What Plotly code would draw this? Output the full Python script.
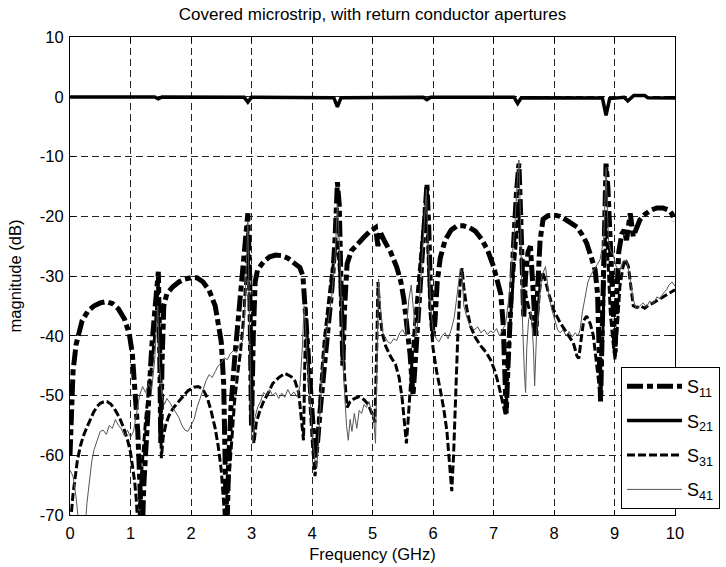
import plotly.graph_objects as go

# ---------------- data ----------------
s11_f = [0.00, 0.02, 0.05, 0.10, 0.15, 0.20, 0.30, 0.40, 0.50, 0.60, 0.70, 0.80, 0.90, 0.98,
         1.03, 1.08, 1.12, 1.16, 1.19, 1.22, 1.26, 1.30, 1.35, 1.40, 1.44, 1.46, 1.48, 1.50,
         1.52, 1.55, 1.60, 1.70, 1.80, 1.90, 2.00, 2.10, 2.20, 2.30, 2.40, 2.45, 2.50, 2.54,
         2.57, 2.59, 2.62, 2.66, 2.72, 2.78, 2.84, 2.90, 2.94, 2.97, 3.00, 3.03, 3.06, 3.10,
         3.20, 3.30, 3.40, 3.50, 3.60, 3.70, 3.80, 3.85, 3.88, 3.93, 3.98, 4.03, 4.06, 4.09,
         4.14, 4.20, 4.27, 4.33, 4.38, 4.42, 4.45, 4.48, 4.51, 4.54, 4.58, 4.65, 4.75, 4.85,
         4.95, 5.05, 5.09, 5.12, 5.20, 5.30, 5.40, 5.47, 5.52, 5.57, 5.62, 5.67, 5.70, 5.74,
         5.78, 5.82, 5.86, 5.90, 5.93, 5.96, 6.00, 6.03, 6.07, 6.12, 6.20, 6.30, 6.40, 6.50,
         6.60, 6.70, 6.80, 6.90, 7.00, 7.06, 7.12, 7.16, 7.19, 7.21, 7.24, 7.28, 7.33, 7.38,
         7.42, 7.45, 7.48, 7.50, 7.53, 7.57, 7.61, 7.65, 7.70, 7.73, 7.77, 7.82, 7.90, 8.00,
         8.10, 8.20, 8.30, 8.38, 8.46, 8.54, 8.62, 8.68, 8.72, 8.75, 8.77, 8.80, 8.83, 8.86,
         8.89, 8.93, 8.97, 9.01, 9.04, 9.07, 9.12, 9.16, 9.20, 9.26, 9.31, 9.36, 9.42, 9.50,
         9.60, 9.70, 9.80, 9.90, 9.95, 10.00]
s11_db = [-60, -52, -46, -41.5, -39, -37.5, -35.8, -35, -34.5, -34.3, -34.6, -35.5, -37.2, -39.7,
          -43, -49, -56, -66, -75, -65, -57, -50, -42, -36, -31, -29.3, -40, -58,
          -45, -35, -33, -31.8, -31, -30.5, -30.3, -30.3, -31, -32.4, -35, -37.5, -41, -48,
          -60, -75, -62, -52, -44, -37, -31, -25, -19.5, -30, -55, -40, -31, -29,
          -27.6, -26.8, -26.5, -26.6, -27, -27.8, -28.6, -30, -35, -42, -50, -57, -60, -58,
          -52, -46, -38, -32, -24, -14.3, -18, -30, -45, -35, -28, -25.8, -24.6, -23.6,
          -22.6, -21.9, -25, -22.5, -24.2, -26, -28.5, -31, -34, -38, -43, -50, -45, -38,
          -32, -26, -20, -14.6, -22, -33, -40, -38, -31, -27, -24, -22.3, -21.6, -21.6,
          -21.9, -22.5, -23.8, -25.6, -28.4, -30.5, -33, -38, -45, -53, -45, -35, -25, -16,
          -11.2, -20, -30, -37, -30, -26, -25, -33, -40, -32, -24, -20.5, -19.9, -19.8,
          -20, -20.6, -21.2, -21.8, -23, -24.5, -27, -29, -33, -42, -51, -38, -22, -11.2,
          -15, -23.4, -31.7, -42.8, -33, -26, -23, -22.3, -24, -19.5, -23.4, -22, -20.6, -19.7,
          -19, -18.6, -18.6, -19, -19.6, -20.8]

s21_f = [0.00, 1.40, 1.46, 1.52, 2.88, 2.94, 3.00, 4.36, 4.42, 4.48, 5.84, 5.90, 5.96,
         7.34, 7.40, 7.46, 8.80, 8.86, 8.92, 9.16, 9.22, 9.28, 9.32, 9.50, 9.55, 10.00]
s21_db = [-0.05, -0.05, -0.35, -0.05, -0.1, -0.9, -0.1, -0.15, -1.7, -0.15, -0.1, -0.5, -0.1,
          -0.1, -1.1, -0.15, -0.2, -3.1, -0.3, -0.1, -0.7, -0.1, 0.2, 0.2, -0.15, -0.2]

s31_f = [0.00, 0.02, 0.05, 0.08, 0.12, 0.17, 0.22, 0.28, 0.34, 0.39, 0.45, 0.50, 0.55, 0.61,
         0.67, 0.72, 0.78, 0.83, 0.89, 0.95, 1.00, 1.03, 1.07, 1.10, 1.13, 1.16, 1.20, 1.25,
         1.30, 1.35, 1.40, 1.44, 1.46, 1.48, 1.51, 1.54, 1.58, 1.63, 1.70, 1.78, 1.86, 1.95,
         2.05, 2.12, 2.20, 2.27, 2.33, 2.40, 2.45, 2.50, 2.54, 2.57, 2.60, 2.64, 2.68, 2.72,
         2.77, 2.82, 2.87, 2.91, 2.94, 2.97, 3.00, 3.04, 3.08, 3.14, 3.20, 3.28, 3.35, 3.45,
         3.55, 3.65, 3.72, 3.78, 3.82, 3.86, 3.88, 3.90, 3.93, 3.97, 4.01, 4.05, 4.09, 4.14,
         4.20, 4.26, 4.32, 4.37, 4.42, 4.46, 4.50, 4.54, 4.58, 4.63, 4.70, 4.78, 4.86, 4.93,
         4.99, 5.04, 5.07, 5.09, 5.12, 5.16, 5.22, 5.30, 5.38, 5.44, 5.49, 5.53, 5.56, 5.59,
         5.63, 5.68, 5.73, 5.78, 5.83, 5.88, 5.91, 5.95, 6.00, 6.06, 6.12, 6.18, 6.23, 6.27,
         6.31, 6.34, 6.37, 6.41, 6.45, 6.48, 6.51, 6.56, 6.62, 6.70, 6.79, 6.88, 6.95, 7.02,
         7.08, 7.13, 7.17, 7.20, 7.24, 7.28, 7.33, 7.38, 7.41, 7.44, 7.47, 7.50, 7.55, 7.60,
         7.65, 7.70, 7.74, 7.77, 7.81, 7.85, 7.90, 7.99, 8.10, 8.21, 8.32, 8.38, 8.41, 8.45,
         8.49, 8.54, 8.60, 8.65, 8.70, 8.74, 8.77, 8.80, 8.83, 8.86, 8.89, 8.93, 8.97, 9.01,
         9.05, 9.09, 9.14, 9.18, 9.23, 9.27, 9.31, 9.37, 9.43, 9.50, 9.57, 9.64, 9.72, 9.80,
         9.88, 9.95, 10.00]
s31_db = [-75, -70, -66.5, -64, -61, -58.5, -56.8, -55.3, -53.8, -52.8, -51.8, -51.3, -51.1, -51,
          -51.4, -52, -53, -54, -55.5, -57.4, -59.5, -61.5, -64.5, -68, -74, -66, -60, -54,
          -49, -45, -40, -33, -31, -45, -60.5, -57, -55, -53.5, -52.2, -51.2, -50.2, -49.2,
          -48.6, -48.5, -49, -50.4, -52.5, -55.5, -58.5, -62.5, -68, -75, -68, -62, -56, -51,
          -46.5, -42.5, -37, -30, -22, -38, -52, -58, -54.5, -52.5, -51, -49.5, -48, -47,
          -46.3, -46.8, -47.6, -49.5, -53, -57.5, -45, -35, -42, -52, -58.5, -63.5, -58, -49,
          -41, -35.5, -30, -27, -24, -30, -40, -47, -52, -51, -50.5, -50.2, -50.7, -51.5,
          -53, -54.5, -42, -31, -36, -39.5, -41.8, -43.5, -44.8, -47, -50.5, -55, -58, -54,
          -47, -40, -34, -28, -22, -17, -24, -36, -42, -46, -49, -52.4, -56, -61,
          -66, -60, -50, -40, -31, -28.7, -32, -35.5, -38.4, -40.3, -41.7, -42.8, -44, -45.8,
          -48, -50.5, -52.3, -53.4, -46, -37.3, -30, -24, -18, -24, -29, -31.7, -34, -36,
          -38, -39.8, -35, -31.7, -29.3, -30.5, -32.5, -35.6, -37.8, -39.5, -41.2, -43.4, -43.8, -40.5,
          -37.5, -36.7, -38, -40, -44.5, -48, -50.5, -42, -30, -20, -27, -36, -40.6, -44,
          -38, -31.7, -28.5, -27.3, -28.4, -32, -35, -35.3, -35, -35.4, -34.8, -34.5, -34, -33.6,
          -33, -32.6, -32.3]

s41_f = [0.00, 0.05, 0.10, 0.15, 0.20, 0.25, 0.28, 0.32, 0.36, 0.40, 0.45, 0.50, 0.55, 0.60,
         0.65, 0.70, 0.75, 0.80, 0.85, 0.90, 0.95, 1.00, 1.05, 1.10, 1.15, 1.20, 1.25, 1.30,
         1.35, 1.40, 1.45, 1.48, 1.52, 1.56, 1.60, 1.65, 1.70, 1.75, 1.80, 1.85, 1.90, 1.95,
         2.00, 2.05, 2.10, 2.15, 2.20, 2.25, 2.30, 2.35, 2.40, 2.45, 2.50, 2.55, 2.60, 2.65,
         2.70, 2.75, 2.80, 2.85, 2.88, 2.91, 2.94, 2.97, 3.00, 3.02, 3.05, 3.10, 3.15, 3.20,
         3.25, 3.30, 3.35, 3.40, 3.45, 3.50, 3.55, 3.60, 3.65, 3.70, 3.75, 3.80, 3.84, 3.87,
         3.90, 3.95, 4.00, 4.05, 4.08, 4.12, 4.17, 4.22, 4.28, 4.33, 4.38, 4.42, 4.45, 4.49,
         4.53, 4.57, 4.60, 4.63, 4.66, 4.70, 4.74, 4.78, 4.82, 4.86, 4.90, 4.94, 4.98, 5.02,
         5.05, 5.08, 5.10, 5.13, 5.17, 5.21, 5.25, 5.30, 5.35, 5.40, 5.45, 5.50, 5.55, 5.60,
         5.64, 5.68, 5.72, 5.76, 5.80, 5.85, 5.89, 5.92, 5.96, 6.00, 6.05, 6.10, 6.15, 6.20,
         6.25, 6.30, 6.35, 6.40, 6.45, 6.48, 6.51, 6.57, 6.62, 6.68, 6.74, 6.79, 6.85, 6.90,
         6.95, 7.00, 7.05, 7.10, 7.15, 7.20, 7.25, 7.30, 7.35, 7.40, 7.42, 7.45, 7.48, 7.51,
         7.53, 7.55, 7.58, 7.62, 7.66, 7.68, 7.71, 7.75, 7.80, 7.86, 7.91, 7.96, 8.02, 8.06,
         8.10, 8.15, 8.20, 8.25, 8.30, 8.35, 8.40, 8.43, 8.47, 8.52, 8.56, 8.60, 8.65, 8.70,
         8.76, 8.82, 8.86, 8.90, 8.94, 8.98, 9.03, 9.09, 9.14, 9.20, 9.25, 9.31, 9.36, 9.42,
         9.47, 9.53, 9.58, 9.64, 9.70, 9.75, 9.80, 9.86, 9.90, 9.95, 10.00]
s41_db = [-62.5, -63.5, -67, -72, -72, -72, -68, -64, -61, -59, -57.5, -56, -55.8, -56.5,
          -55, -55.5, -54, -55, -55.6, -56.8, -55.8, -57, -56, -53, -50, -48.5, -49.5, -48,
          -49, -44, -35, -45, -50, -51.5, -50.5, -51.2, -52, -53, -53.7, -55, -55.8, -56,
          -55, -54, -52, -50.5, -49, -47.5, -46.5, -47, -46, -45, -44.5, -43.7, -44, -43,
          -42.5, -42.8, -41.5, -41, -38, -30, -21, -40, -56.5, -58, -54, -52, -51, -49.5,
          -50, -49, -50, -49.5, -50.5, -49.6, -50.3, -49, -50, -49.4, -50.2, -48.5, -42, -35,
          -40, -48, -56, -61, -62, -55, -46, -41, -37, -33, -27, -18, -24, -38,
          -48, -55, -57.5, -54, -56, -53, -55.5, -52.5, -53, -51.5, -52, -51, -52.5, -54,
          -58, -40, -30.5, -35, -39.5, -40.2, -41, -41.3, -40.5, -40.8, -39.5, -39, -40, -34,
          -31.5, -36, -40, -37, -30, -22, -15.5, -25, -35, -39, -40.5, -41, -40, -39.5,
          -40.5, -39, -37, -33, -28.8, -29.5, -35, -37.3, -38.5, -39, -38.5, -39.5, -39, -39.8,
          -39.2, -39.5, -38.8, -40, -39, -38, -34, -28, -22, -13, -10.6, -22, -38, -46,
          -49.5, -42, -37.3, -36, -42, -48.4, -40, -34.5, -30, -28.4, -32.8, -35.5, -37.8, -39,
          -39.5, -39, -40, -39.3, -40.2, -39.5, -40, -39, -36, -32.8, -31, -30, -29.2, -28.3,
          -27.3, -24, -12, -24, -26, -26.5, -28.5, -29, -27.5, -27.3, -30, -34, -35.5, -35,
          -34.5, -35.2, -34.2, -34.6, -33.5, -33.8, -33, -32.3, -31.5, -31, -31.7]

x_ticks = [0, 1, 2, 3, 4, 5, 6, 7, 8, 9, 10]
y_ticks = [10, 0, -10, -20, -30, -40, -50, -60, -70]

FONT = "Liberation Sans, Arial, Helvetica, sans-serif"

W, H = 726, 567

fig = go.Figure()
fig.add_trace(go.Scatter(x=s11_f, y=s11_db, mode="lines", name="S<sub>11</sub>", legendgroup="g1",
                         line=dict(color="black", width=5, dash="16px,4px,6px,4px")))
fig.add_trace(go.Scatter(x=s21_f, y=s21_db, mode="lines", name="S<sub>21</sub>", legendgroup="g2",
                         line=dict(color="black", width=3.5)))
fig.add_trace(go.Scatter(x=s31_f, y=s31_db, mode="lines", name="S<sub>31</sub>", legendgroup="g3",
                         line=dict(color="black", width=3, dash="8px,3px")))
fig.add_trace(go.Scatter(x=s41_f, y=s41_db, mode="lines", name="S<sub>41</sub>", legendgroup="g4",
                         line=dict(color="#555555", width=1)))

axis_common = dict(
    showgrid=True, gridcolor="#222222", gridwidth=1, griddash="7px,4px",
    showline=True, linecolor="black", linewidth=1, mirror="ticks",
    ticks="inside", ticklen=5, tickcolor="black", automargin=False,
    zeroline=False, tickfont=dict(family=FONT, size=16.5, color="black"),
)

fig.update_layout(
    width=W, height=H,
    margin=dict(l=70, r=51, t=37, b=52, autoexpand=False),
    paper_bgcolor="white", plot_bgcolor="white",
    font=dict(family=FONT, color="black"),
    title=dict(text="Covered microstrip, with return conductor apertures",
               x=0.5, xref="paper", y=1 - 14 / H, yref="container",
               xanchor="center", yanchor="middle",
               font=dict(family=FONT, size=17, color="black")),
    xaxis=dict(range=[0, 10], tickvals=x_ticks, ticktext=[str(v) for v in x_ticks],
               ticklabelstandoff=3,
               title=dict(text="Frequency (GHz)", font=dict(family=FONT, size=16.5), standoff=7),
               **axis_common),
    yaxis=dict(range=[-70, 10], tickvals=y_ticks, ticktext=[str(v) for v in y_ticks],
               ticklabelstandoff=2,
               title=dict(text="magnitude (dB)", font=dict(family=FONT, size=16.5), standoff=14),
               **axis_common),
    showlegend=True,
    legend=dict(x=(621 - 70) / 605, y=(515 - 367) / 478, xanchor="left", yanchor="top",
                bgcolor="white", bordercolor="black", borderwidth=1,
                font=dict(family=FONT, size=18, color="black"),
                itemwidth=55, tracegroupgap=8),
)

# remove the browser's default 8px page margin so the figure fills the window exactly
fig.write_html("out.html", config={"displayModeBar": False},
               post_script="document.body.style.margin='0px';")
